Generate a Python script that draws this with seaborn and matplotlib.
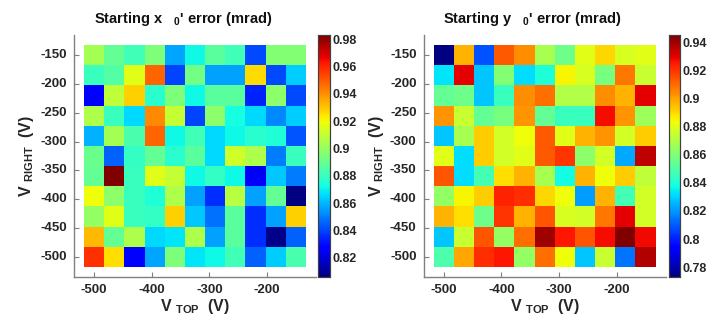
import numpy as np
import pandas as pd
import matplotlib
matplotlib.use("Agg")
import matplotlib.pyplot as plt
import seaborn as sns
from matplotlib.ticker import FormatStrFormatter

# ---- data ----
v_top = [-500, -465, -430, -395, -360, -325, -290, -255, -220, -185, -150]
v_right = [-150, -185, -220, -255, -290, -325, -360, -395, -430, -465, -500]  # top to bottom

x_err = [
    [0.903, 0.889, 0.882, 0.895, 0.857, 0.871, 0.887, 0.882, 0.841, 0.896, 0.896],
    [0.880, 0.886, 0.916, 0.948, 0.840, 0.893, 0.856, 0.856, 0.926, 0.841, 0.864],
    [0.827, 0.909, 0.928, 0.877, 0.895, 0.871, 0.887, 0.887, 0.834, 0.898, 0.841],
    [0.905, 0.880, 0.866, 0.941, 0.910, 0.840, 0.898, 0.873, 0.866, 0.852, 0.864],
    [0.859, 0.903, 0.884, 0.948, 0.871, 0.882, 0.866, 0.871, 0.877, 0.875, 0.843],
    [0.891, 0.845, 0.879, 0.889, 0.877, 0.887, 0.866, 0.912, 0.905, 0.850, 0.880],
    [0.889, 0.983, 0.880, 0.916, 0.910, 0.871, 0.879, 0.871, 0.825, 0.863, 0.850],
    [0.919, 0.898, 0.880, 0.875, 0.905, 0.856, 0.836, 0.907, 0.856, 0.889, 0.806],
    [0.900, 0.916, 0.880, 0.879, 0.928, 0.863, 0.848, 0.887, 0.836, 0.856, 0.928],
    [0.932, 0.889, 0.905, 0.866, 0.868, 0.905, 0.856, 0.887, 0.836, 0.808, 0.845],
    [0.958, 0.925, 0.827, 0.857, 0.895, 0.868, 0.871, 0.882, 0.845, 0.864, 0.884],
]

y_err = [
    [0.773, 0.897, 0.808, 0.913, 0.904, 0.868, 0.856, 0.880, 0.890, 0.878, 0.880],
    [0.833, 0.930, 0.828, 0.861, 0.832, 0.840, 0.885, 0.878, 0.858, 0.908, 0.875],
    [0.854, 0.856, 0.828, 0.845, 0.904, 0.909, 0.870, 0.870, 0.904, 0.897, 0.930],
    [0.902, 0.875, 0.854, 0.858, 0.902, 0.854, 0.845, 0.845, 0.927, 0.902, 0.866],
    [0.828, 0.868, 0.892, 0.877, 0.883, 0.913, 0.880, 0.897, 0.902, 0.877, 0.892],
    [0.880, 0.832, 0.892, 0.877, 0.880, 0.913, 0.920, 0.863, 0.877, 0.823, 0.935],
    [0.914, 0.832, 0.847, 0.889, 0.897, 0.868, 0.837, 0.897, 0.883, 0.892, 0.873],
    [0.864, 0.885, 0.892, 0.923, 0.921, 0.890, 0.883, 0.821, 0.897, 0.847, 0.877],
    [0.897, 0.889, 0.856, 0.920, 0.897, 0.914, 0.878, 0.877, 0.908, 0.930, 0.877],
    [0.828, 0.875, 0.914, 0.864, 0.909, 0.940, 0.925, 0.914, 0.927, 0.945, 0.928],
    [0.849, 0.899, 0.921, 0.925, 0.864, 0.909, 0.883, 0.828, 0.875, 0.814, 0.937],
]

x_ticks = [-500, -400, -300, -200]
y_ticks = [-150, -200, -250, -300, -350, -400, -450, -500]
cbar_ticks_x = [0.82, 0.84, 0.86, 0.88, 0.90, 0.92, 0.94, 0.96, 0.98]
cbar_ticks_y = [0.78, 0.80, 0.82, 0.84, 0.86, 0.88, 0.90, 0.92, 0.94]
titles = ["Starting x   ${}_{0}$' error (mrad)", "Starting y   ${}_{0}$' error (mrad)"]

# ---- style ----
sns.set_style("white")
plt.rcParams["font.family"] = ["Liberation Sans", "DejaVu Sans"]
plt.rcParams["font.weight"] = "bold"
plt.rcParams["mathtext.fontset"] = "custom"
plt.rcParams["mathtext.rm"] = "Liberation Sans:bold"
plt.rcParams["mathtext.bf"] = "Liberation Sans:bold"
plt.rcParams["mathtext.it"] = "Liberation Sans:bold"
plt.rcParams["mathtext.default"] = "bf"

W, H = 708, 320
fig = plt.figure(figsize=(W / 100, H / 100), dpi=100)

def px_axes(l, t, r, b):
    return [l / W, 1 - b / H, (r - l) / W, (b - t) / H]

axes_px = [(74, 35, 316, 277), (423.5, 35, 665.7, 277)]
cbar_px = [(318.3, 35, 330, 277), (668.5, 35, 680, 277)]
datas = [x_err, y_err]
cticks = [cbar_ticks_x, cbar_ticks_y]

step = v_top[1] - v_top[0]
txtcol = "#262626"
spcol = "#808080"

for i in range(2):
    ax = fig.add_axes(px_axes(*axes_px[i]))
    cax = fig.add_axes(px_axes(*cbar_px[i]))
    df = pd.DataFrame(datas[i], index=v_right, columns=v_top)
    sns.heatmap(df, ax=ax, cbar_ax=cax, cmap="jet", linewidths=0)
    n = len(v_top)
    ax.set_xlim(-0.5, n + 0.5)
    ax.set_ylim(n + 0.5, -0.5)
    ax.set_xticks([(v - v_top[0]) / step + 0.5 for v in x_ticks])
    ax.set_xticklabels([str(v) for v in x_ticks], rotation=0)
    ax.set_yticks([(v_right[0] - v) / step + 0.5 for v in y_ticks])
    ax.set_yticklabels([str(v) for v in y_ticks], rotation=0)
    ax.tick_params(axis="both", direction="in", length=3.5, width=0.8, color=spcol,
                   labelsize=9.5, labelcolor=txtcol, pad=5)
    ax.tick_params(axis="y", left=True)
    ax.tick_params(axis="x", bottom=True)
    for lab in ax.get_xticklabels() + ax.get_yticklabels():
        lab.set_fontweight("bold")
    for s in ["top", "right"]:
        ax.spines[s].set_visible(False)
    for s in ["left", "bottom"]:
        ax.spines[s].set_visible(True)
        ax.spines[s].set_color(spcol)
        ax.spines[s].set_linewidth(1.0)
    ax.set_xlabel("V ${}_{TOP}$  (V)", fontsize=11.5, fontweight="bold", color=txtcol, labelpad=1)
    ax.set_ylabel("V ${}_{RIGHT}$  (V)", fontsize=11.5, fontweight="bold", color=txtcol, labelpad=3)
    ax.set_title(titles[i], fontsize=10.5, fontweight="bold", color="#111111", pad=9, x=0.45)

    cax.yaxis.set_major_formatter(FormatStrFormatter("%g"))
    cax.set_yticks(cticks[i])
    cax.set_yticklabels([("%g" % t) for t in cticks[i]])
    cax.tick_params(axis="y", direction="in", length=2.5, width=0.6, color=spcol,
                    labelsize=9, labelcolor=txtcol, pad=2)
    for lab in cax.get_yticklabels():
        lab.set_fontweight("bold")
    for s in cax.spines.values():
        s.set_visible(True)
        s.set_color("#404040")
        s.set_linewidth(0.8)

fig.savefig("out.png", dpi=100)
